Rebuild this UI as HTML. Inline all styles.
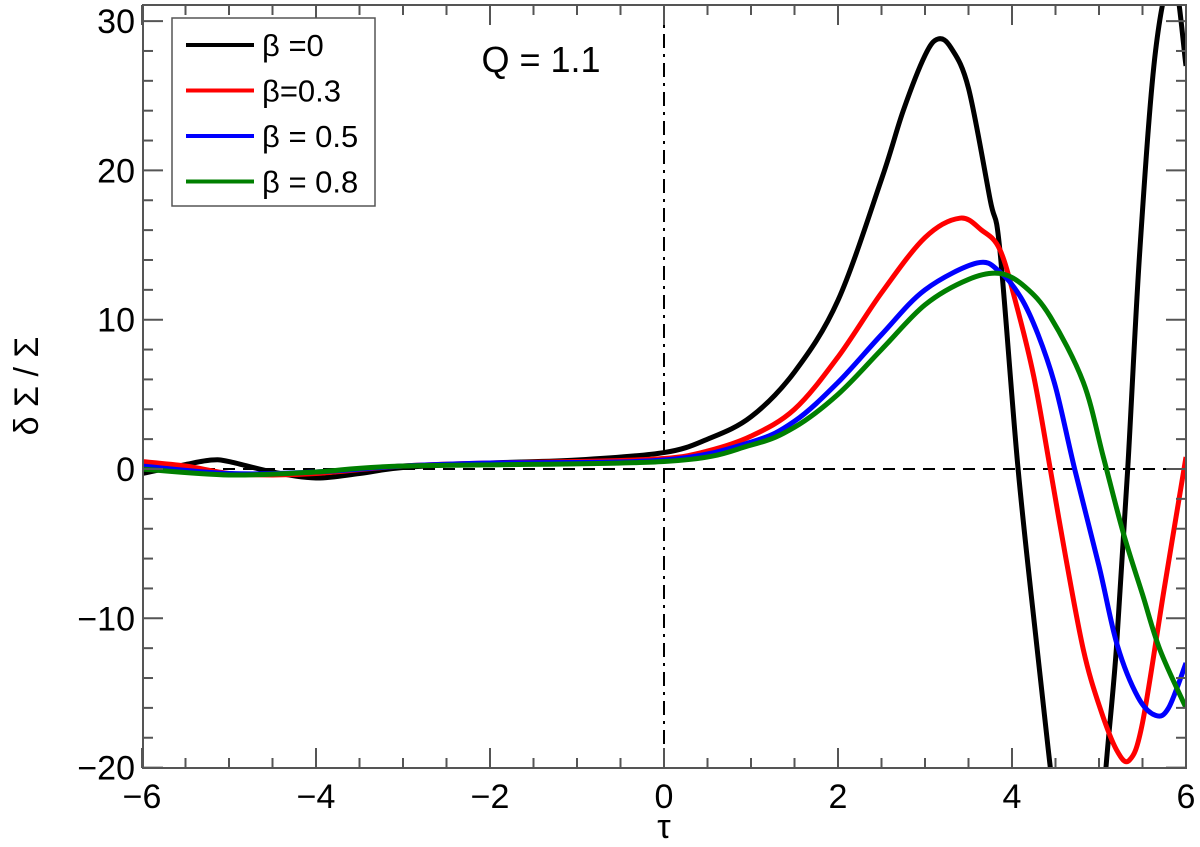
<!DOCTYPE html>
<html><head><meta charset="utf-8"><style>
html,body{margin:0;padding:0;background:#fff;overflow:hidden;width:1200px;height:847px;}
svg{display:block;}
svg text{font-family:"Liberation Sans",sans-serif;}
</style></head><body>
<svg id="chart" width="1200" height="847" xmlns="http://www.w3.org/2000/svg">
<defs><clipPath id="clip"><rect x="143" y="5" width="1043" height="763"/></clipPath></defs>
<g id="grid"></g>
<g id="series" clip-path="url(#clip)"></g>
<rect x="143" y="5" width="1043" height="763" fill="none" stroke="#555" stroke-width="2"/>
<g id="ticks"></g>
<text x="664" y="838" font-size="34" text-anchor="middle" font-family="DejaVu Serif, serif">τ</text>
<text transform="translate(38,386) rotate(-90)" font-size="34" text-anchor="middle" font-family="DejaVu Serif, serif">δ Σ / Σ</text>
<text x="541" y="72" font-size="36" text-anchor="middle">Q = 1.1</text>
<g id="legend">
<rect x="172" y="18" width="203" height="188" fill="#fff" stroke="#555" stroke-width="1.5"/>
</g>
</svg>
<script>
const tau0a = [-6,-5.5,-5.2,-5,-4.5,-4,-3.5,-3,-2,-1,0,0.5,1,1.5,2,2.5,2.75,3,3.15,3.3,3.5,3.75,3.86,4.07,4.29,4.45,4.6];
const beta0a = [-0.3,0.3,0.6,0.5,-0.2,-0.6,-0.3,0.1,0.4,0.6,1.1,2,3.5,6.5,11.3,19.4,24,27.7,28.8,28.2,25.5,18,14.7,0,-12.1,-20.5,-28];
const tau0b = [4.95,5.08,5.2,5.33,5.47,5.65,5.85,6];
const beta0b = [-30,-20,-12,0,14.7,28,33,27];
const tau3 = [-6,-5.5,-5,-4.5,-4,-3,-2,-1,0,0.5,1,1.5,2,2.5,3,3.4,3.65,3.86,4.05,4.25,4.44,4.62,4.82,5.0,5.2,5.35,5.5,5.75,6];
const beta3 = [0.5,0.2,-0.3,-0.4,-0.3,0.2,0.4,0.5,0.7,1.2,2.2,4,7.5,11.8,15.5,16.8,16,14.7,11,6.2,0,-6,-12.1,-15.8,-18.8,-19.5,-17,-8,0.8];
const tau5 = [-6,-5,-4,-3,-2,0,1,1.5,2,2.5,3,3.6,3.86,4.1,4.3,4.5,4.72,5.0,5.21,5.45,5.65,5.8,6];
const beta5 = [0.2,-0.3,-0.2,0.2,0.4,0.6,1.8,3.2,5.8,9,12,13.8,13.2,11.5,9,5.5,0,-6.5,-11.8,-15.3,-16.5,-16,-13];
const tau8 = [-6,-5,-4,-3,0,1,1.5,2,2.5,3,3.5,3.86,4.15,4.44,4.82,5.05,5.28,5.5,5.7,6];
const beta8 = [0,-0.4,-0.2,0.2,0.5,1.6,2.8,5,8,11,12.7,13.1,12.2,10.2,5.8,0.8,-4.3,-8.4,-12.1,-16];
const xTicks = [-6,-4,-2,0,2,4,6];
const yTicks = [-20,-10,0,10,20,30];
const legendLabels = ["β =0","β=0.3","β = 0.5","β = 0.8"];
const colors = ["#000","#f00","#00f","#007f00"];

const X = v => 142 + (v + 6) * 87.0;
const Y = v => 469 - v * 14.93;
const NS = "http://www.w3.org/2000/svg";
function mk(tag, attrs, parent){const e=document.createElementNS(NS,tag);for(const k in attrs)e.setAttribute(k,attrs[k]);parent.appendChild(e);return e;}
function path(xs, ys){
  const p = xs.map((x,i)=>[X(x),Y(ys[i])]);
  let d = "M"+p[0][0]+","+p[0][1];
  for(let i=0;i<p.length-1;i++){
    const p0=p[i-1]||p[i], p1=p[i], p2=p[i+1], p3=p[i+2]||p2;
    const c1=[p1[0]+(p2[0]-p0[0])/6, p1[1]+(p2[1]-p0[1])/6];
    const c2=[p2[0]-(p3[0]-p1[0])/6, p2[1]-(p3[1]-p1[1])/6];
    d+=" C"+c1+" "+c2+" "+p2;
  }
  return d;
}
const grid=document.getElementById("grid");
let l=mk("line",{x1:143,x2:1186,y1:Y(0),y2:Y(0),stroke:"#000","stroke-width":2,"stroke-dasharray":"12,8"},grid);


l=mk("line",{x1:X(0),x2:X(0),y1:5,y2:768,stroke:"#000","stroke-width":2,"stroke-dasharray":"14,6,3,6"},grid);



const sg=document.getElementById("series");
const sets=[[tau0a,beta0a,0],[tau0b,beta0b,0],[tau3,beta3,1],[tau5,beta5,2],[tau8,beta8,3]];
const names=["series-beta-0","series-beta-0-branch2","series-beta-0.3","series-beta-0.5","series-beta-0.8"];
sets.forEach((s,i)=>{
  const e=mk("path",{d:path(s[0],s[1]),fill:"none",stroke:colors[s[2]],"stroke-width":5,"stroke-linejoin":"round"},sg);
  
  
});

const tg=document.getElementById("ticks");
for(let v=-6;v<=6.001;v+=0.5){
  const major=Math.abs(v%2)<1e-6, len=major?20:10;
  mk("line",{x1:X(v),x2:X(v),y1:768,y2:768-len,stroke:"#555","stroke-width":2},tg);
  mk("line",{x1:X(v),x2:X(v),y1:5,y2:5+len,stroke:"#555","stroke-width":2},tg);
}
for(let v=-20;v<=30.001;v+=2){
  const major=Math.abs(v%10)<1e-6, len=major?20:10;
  mk("line",{x1:143,x2:143+len,y1:Y(v),y2:Y(v),stroke:"#555","stroke-width":2},tg);
  mk("line",{x1:1186,x2:1186-len,y1:Y(v),y2:Y(v),stroke:"#555","stroke-width":2},tg);
}
xTicks.forEach(v=>{
  const t=mk("text",{x:X(v),y:808,"font-size":34,"text-anchor":"middle"},tg);
  t.textContent=v<0?"\u2212"+(-v):String(v);
  
  
});
yTicks.forEach(v=>{
  const t=mk("text",{x:135,y:Y(v)+12,"font-size":34,"text-anchor":"end"},tg);
  t.textContent=v<0?"\u2212"+(-v):String(v);
  
  
});
const lg=document.getElementById("legend");
legendLabels.forEach((lab,i)=>{
  const y=45+i*45.5;
  const ln=mk("line",{x1:186,x2:254,y1:y,y2:y,stroke:colors[i],"stroke-width":4},lg);
  
  
  const t=mk("text",{x:262,y:y+11,"font-size":31},lg);
  t.textContent=lab;
  
  
});
</script>
</body></html>
